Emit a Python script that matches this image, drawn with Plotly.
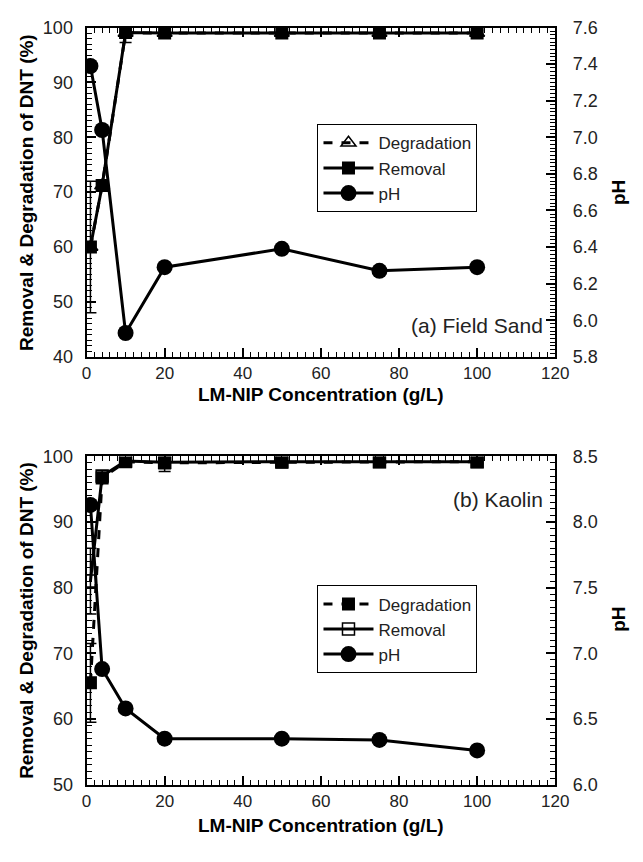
import plotly.graph_objects as go

# ---- data ----
conc = [1, 4, 10, 20, 50, 75, 100]

# (a) Field Sand
sand_removal = [60.0, 71.2, 99.1, 99.0, 99.0, 99.0, 99.0]
sand_removal_err_plus = [12.0, 1.0, 0.8, 0.5, 0.5, 0.5, 0.5]
sand_removal_err_minus = [12.0, 1.0, 1.8, 0.5, 0.5, 0.5, 0.5]
sand_degradation = [60.0, 71.2, 99.0, 99.0, 99.0, 99.0, 99.0]
sand_ph = [7.39, 7.04, 5.93, 6.29, 6.39, 6.27, 6.29]

# (b) Kaolin
kaolin_degradation = [65.5, 96.7, 99.2, 99.0, 99.1, 99.2, 99.2]
kaolin_deg_err = [6.0, 0.8, 0.5, 1.3, 0.6, 0.3, 0.3]
kaolin_removal = [81.0, 97.0, 99.3, 99.1, 99.2, 99.2, 99.2]
kaolin_rem_err = [5.0, 0.8, 0.5, 0.6, 0.5, 0.3, 0.3]
kaolin_ph = [8.13, 6.88, 6.58, 6.35, 6.35, 6.34, 6.26]

x_ticks = [0, 20, 40, 60, 80, 100, 120]

FONT = "Liberation Sans, Arial, sans-serif"
BLK = "black"
TXT = "#222"

fig = go.Figure()

# ---- top panel ----
fig.add_trace(go.Scatter(
    x=conc, y=sand_degradation, name="Degradation", mode="lines+markers",
    line=dict(color=BLK, width=3, dash="dash"),
    marker=dict(symbol="triangle-up-open", size=13, color=BLK, line=dict(width=1.5)),
    xaxis="x", yaxis="y", legend="legend"))
fig.add_trace(go.Scatter(
    x=conc, y=sand_removal, name="Removal", mode="lines+markers",
    line=dict(color=BLK, width=3),
    marker=dict(symbol="square", size=13, color=BLK),
    error_y=dict(type="data", array=sand_removal_err_plus, arrayminus=sand_removal_err_minus,
                 color=BLK, thickness=1.5, width=6),
    xaxis="x", yaxis="y", legend="legend"))
fig.add_trace(go.Scatter(
    x=conc, y=sand_ph, name="pH", mode="lines+markers",
    line=dict(color=BLK, width=3),
    marker=dict(symbol="circle", size=16, color=BLK),
    xaxis="x", yaxis="y2", legend="legend"))

# ---- bottom panel ----
fig.add_trace(go.Scatter(
    x=conc, y=kaolin_degradation, name="Degradation", mode="lines+markers",
    line=dict(color=BLK, width=3, dash="dash"),
    marker=dict(symbol="square", size=13, color=BLK),
    error_y=dict(type="data", array=kaolin_deg_err, color=BLK, thickness=1.5, width=6),
    xaxis="x2", yaxis="y3", legend="legend2"))
fig.add_trace(go.Scatter(
    x=conc, y=kaolin_removal, name="Removal", mode="lines+markers",
    line=dict(color=BLK, width=3),
    marker=dict(symbol="square-open", size=12, color=BLK, line=dict(width=1.5)),
    error_y=dict(type="data", array=kaolin_rem_err, color=BLK, thickness=1.5, width=6),
    xaxis="x2", yaxis="y3", legend="legend2"))
fig.add_trace(go.Scatter(
    x=conc, y=kaolin_ph, name="pH", mode="lines+markers",
    line=dict(color=BLK, width=3),
    marker=dict(symbol="circle", size=16, color=BLK),
    xaxis="x2", yaxis="y4", legend="legend2"))

W, H = 643, 862
XD = [84 / W, 567 / W]
TOP = [1 - 355 / H, 1 - 18 / H]
BOT = [1 - 793 / H, 1 - 457 / H]

def xax(anchor):
    return dict(
        domain=XD, anchor=anchor, range=[0, 120], tickvals=x_ticks,
        ticks="inside", ticklen=9, tickwidth=1.5, tickcolor=BLK,
        minor=dict(dtick=2, ticks="inside", ticklen=5, tickwidth=1, tickcolor=BLK),
        showline=True, linecolor=BLK, linewidth=2, mirror="ticks",
        showgrid=False, zeroline=False,
        tickfont=dict(family=FONT, size=17, color=TXT))

def yl(domain, rng, dtick, mdtick):
    return dict(
        domain=domain, range=rng, dtick=dtick,
        ticks="inside", ticklen=9, tickwidth=1.5, tickcolor=BLK,
        minor=dict(dtick=mdtick, ticks="inside", ticklen=5, tickwidth=1, tickcolor=BLK),
        showline=True, linecolor=BLK, linewidth=2,
        showgrid=False, zeroline=False, ticklabelstandoff=8,
        tickfont=dict(family=FONT, size=18, color=TXT))

def yr(anchor, overlay, rng, dtick, mdtick, fmt):
    return dict(
        anchor=anchor, overlaying=overlay, side="right", range=rng, dtick=dtick,
        tickformat=fmt,
        ticks="inside", ticklen=9, tickwidth=1.5, tickcolor=BLK,
        minor=dict(dtick=mdtick, ticks="inside", ticklen=5, tickwidth=1, tickcolor=BLK),
        showline=True, linecolor=BLK, linewidth=2,
        showgrid=False, zeroline=False, ticklabelstandoff=12,
        tickfont=dict(family=FONT, size=18, color=TXT))

legend_style = dict(
    bgcolor="white", bordercolor=BLK, borderwidth=1,
    font=dict(family=FONT, size=17, color=TXT),
    xanchor="left", yanchor="top", tracegroupgap=0, itemwidth=50)

def ann(text, x, y, size, angle=0, bold=False, xanchor="center"):
    return dict(text=f"<b>{text}</b>" if bold else text, xref="paper", yref="paper",
                x=x / W, y=1 - y / H, xanchor=xanchor, yanchor="middle",
                textangle=angle, showarrow=False,
                font=dict(family=FONT, size=size, color=BLK if bold else TXT))

ytitle = "Removal & Degradation of DNT (%)"
xtitle = "LM-NIP Concentration (g/L)"

fig.update_layout(
    width=W, height=H,
    margin=dict(l=0, r=0, t=0, b=0),
    paper_bgcolor="white", plot_bgcolor="white",
    showlegend=True,
    xaxis=xax("y"),
    xaxis2=xax("y3"),
    yaxis=yl(TOP, [40, 100], 10, 1),
    yaxis2=yr("x", "y", [5.8, 7.6], 0.2, 0.02, ".1f"),
    yaxis3=yl(BOT, [50, 100], 10, 1),
    yaxis4=yr("x2", "y3", [6.0, 8.5], 0.5, 0.05, ".1f"),
    legend=dict(x=322 / W, y=1 - 117 / H, **legend_style),
    legend2=dict(x=322 / W, y=1 - 589 / H, **legend_style),
    annotations=[
        ann("(a) Field Sand", 556, 323, 21, xanchor="right"),
        ann("(b) Kaolin", 556, 501, 21, xanchor="right"),
        ann(ytitle, 22, 187, 19, angle=-90, bold=True),
        ann(ytitle, 22, 625, 19, angle=-90, bold=True),
        ann(xtitle, 326, 394, 19, bold=True),
        ann(xtitle, 326, 835, 19, bold=True),
        ann("pH", 632, 187, 19, angle=-90, bold=True),
        ann("pH", 632, 624, 19, angle=-90, bold=True),
    ],
)

fig.write_html("out.html")
